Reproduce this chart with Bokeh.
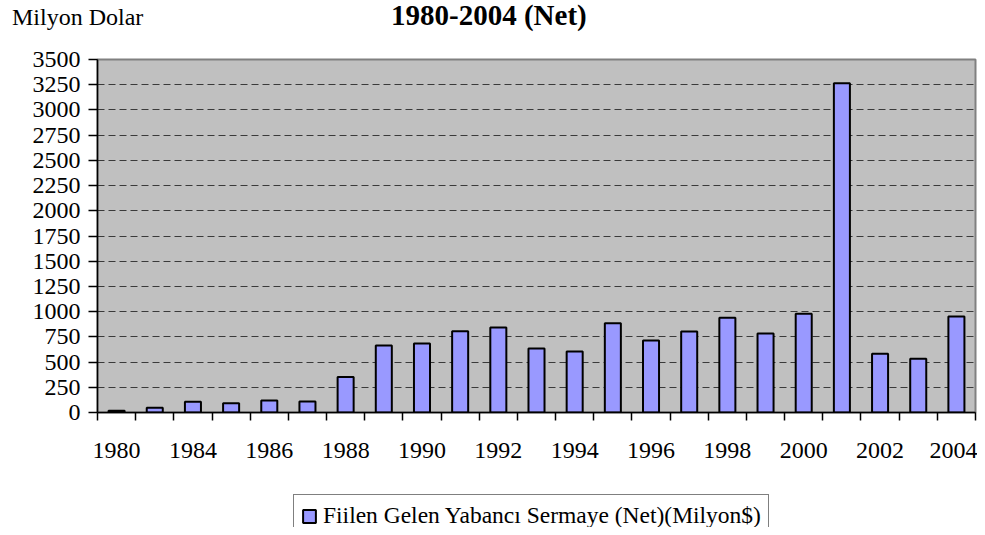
from bokeh.plotting import figure
from bokeh.models import FixedTicker, Legend, LegendItem, Range1d, Div
from bokeh.layouts import column
from bokeh.embed import file_html
from bokeh.resources import INLINE

# ---- data ----
years = ["1980", "1983", "1984", "1985", "1986", "1987", "1988", "1989", "1990",
         "1991", "1992", "1993", "1994", "1995", "1996", "1997", "1998", "1999",
         "2000", "2001", "2002", "2003", "2004"]
values = [18, 46, 106, 92, 119, 109, 352, 664, 684, 805, 842, 634, 605, 884,
          714, 803, 940, 783, 978, 3264, 582, 532, 951]
y_ticks = list(range(0, 3501, 250))
series_name = "Fiilen Gelen Yabancı Sermaye (Net)(Milyon$)"
title_text = "1980-2004 (Net)"
unit_text = "Milyon Dolar"

FONT = "Liberation Serif"
BAR_FILL = "#9999FF"
W = 977
idx = list(range(len(years)))

# ---- header (titles) ----
header_html = (
    '<div style="position:relative;width:%dpx;height:44px;'
    'font-family:\'Liberation Serif\';color:black;line-height:1;">'
    '<span style="position:absolute;left:12px;top:5px;font-size:24px;'
    'white-space:nowrap;">%s</span>'
    '<span style="position:absolute;left:391px;top:1px;font-size:29px;'
    'font-weight:bold;white-space:nowrap;">%s</span>'
    '</div>' % (W, unit_text, title_text)
)
header = Div(text=header_html, width=W, height=44, margin=0)

# ---- main chart ----
p = figure(width=W, height=436, output_backend="svg", toolbar_location=None,
           x_range=Range1d(-0.5, len(years) - 0.5), y_range=Range1d(0, 3500),
           min_border_left=97, min_border_right=2, min_border_top=15,
           min_border_bottom=68)
p.background_fill_color = "#C0C0C0"
p.border_fill_color = "white"
p.outline_line_color = "#808080"
p.outline_line_width = 2

p.vbar(x=idx, top=values, width=0.42, fill_color=BAR_FILL,
       line_color="black", line_width=2)

xt = FixedTicker(ticks=idx[::2], minor_ticks=[i - 0.5 for i in range(len(years) + 1)])
p.xaxis.ticker = xt
p.xaxis.major_label_overrides = {i: years[i] for i in idx[::2]}
p.xaxis.major_tick_line_color = None
p.xaxis.major_tick_out = 8
p.xaxis.major_tick_in = 0
p.xaxis.minor_tick_out = 8
p.xaxis.minor_tick_in = 0
p.xaxis.minor_tick_line_color = "black"
p.xaxis.minor_tick_line_width = 1.5
p.xaxis.axis_line_color = "black"
p.xaxis.axis_line_width = 1.5
p.xaxis.major_label_text_font = FONT
p.xaxis.major_label_text_font_size = "24px"
p.xaxis.major_label_text_color = "black"
p.xaxis.major_label_standoff = 22

p.yaxis.ticker = FixedTicker(ticks=y_ticks)
p.yaxis.major_tick_out = 9
p.yaxis.major_tick_in = 0
p.yaxis.major_tick_line_color = "black"
p.yaxis.major_tick_line_width = 1.5
p.yaxis.minor_tick_line_color = None
p.yaxis.axis_line_color = "black"
p.yaxis.axis_line_width = 1.5
p.yaxis.major_label_text_font = FONT
p.yaxis.major_label_text_font_size = "24px"
p.yaxis.major_label_text_color = "black"
p.yaxis.major_label_standoff = 8

p.xgrid.grid_line_color = None
p.ygrid.ticker = FixedTicker(ticks=y_ticks[1:-1])
p.ygrid.grid_line_color = "#3a3a3a"
p.ygrid.grid_line_dash = "7 4"
p.ygrid.grid_line_width = 1

# ---- footer (legend); its frame is aligned with the main frame ----
footer = figure(width=W, height=47, output_backend="svg", toolbar_location=None,
                x_range=Range1d(-0.5, len(years) - 0.5), y_range=Range1d(0, 1),
                min_border=0, x_axis_location=None, y_axis_location=None)
footer.grid.visible = False
footer.outline_line_color = None
key = footer.vbar(x=idx, top=values, width=0.42, fill_color=BAR_FILL,
                  line_color="black", line_width=2, visible=False)
legend = Legend(items=[LegendItem(label=series_name, renderers=[key])],
                location=(196, -10), margin=0, padding=7,
                glyph_width=16, glyph_height=16, label_standoff=6, label_height=26,
                label_text_font=FONT, label_text_font_size="23.5px",
                label_text_color="black",
                border_line_color="black", border_line_width=1,
                background_fill_color="white", background_fill_alpha=1)
footer.add_layout(legend, "center")

layout = column(header, p, footer, spacing=0)
open("out.html", "w").write(file_html(layout, INLINE))
